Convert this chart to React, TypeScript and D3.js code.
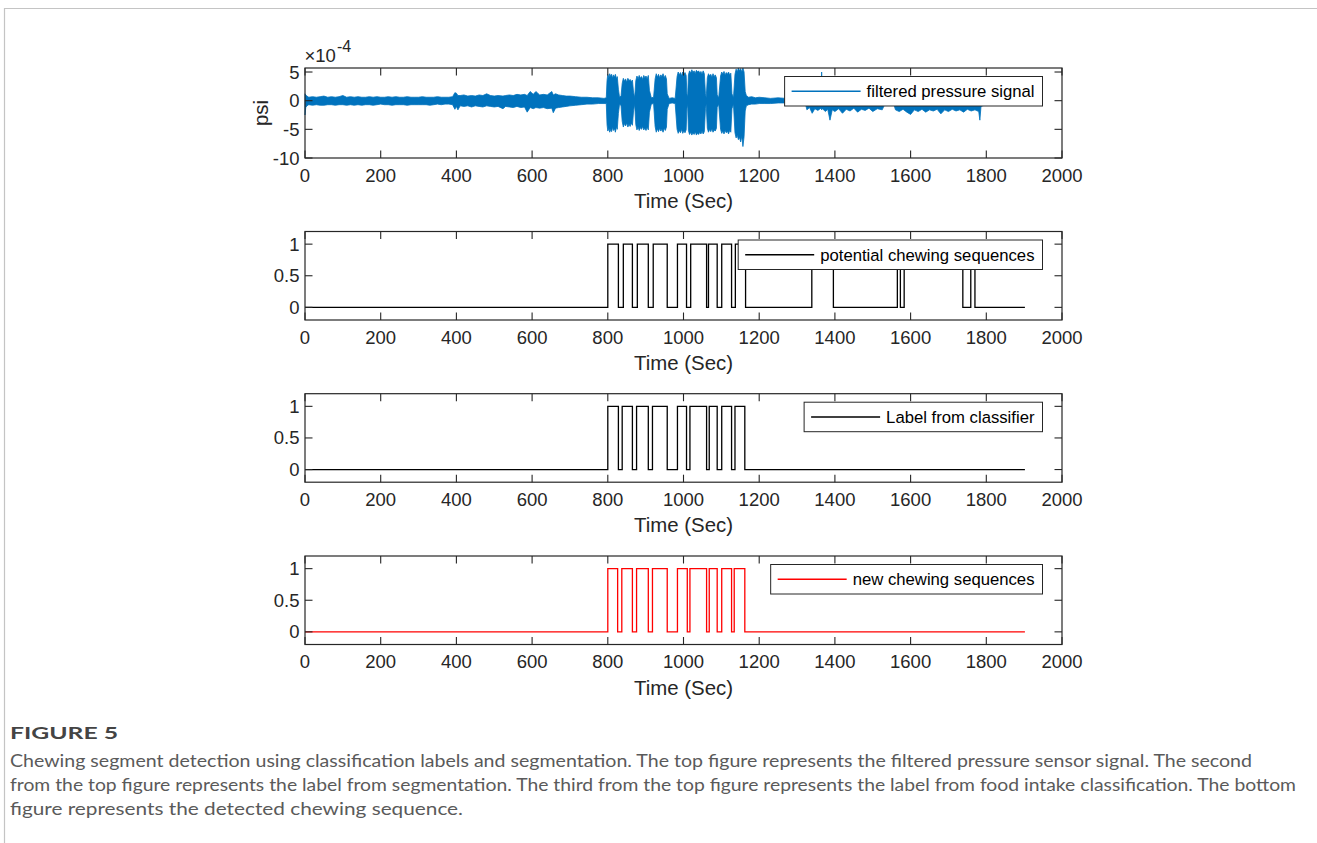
import React, { useMemo } from 'react';
import * as d3 from 'd3';

// ---------------- DATA ----------------
const xTicks = [0, 200, 400, 600, 800, 1000, 1200, 1400, 1600, 1800, 2000];
const sigYTicks = [-10, -5, 0, 5];
const stepYTicks = [0, 0.5, 1];

// filtered pressure signal envelope: [time (s), upper, lower] in units of 1e-4 psi
const sigQuietStart: number[][] = [
  [0, 1.2, -2.5], [2, 1.0, -1.2], [5, 0.8, -0.9], [10, 0.6, -0.7], [20, 0.7, -0.8], [30, 0.6, -0.7], [40, 0.7, -0.8],
  [50, 0.8, -0.8], [60, 0.6, -0.7], [70, 0.7, -0.7], [80, 0.6, -0.8], [90, 0.7, -0.7], [100, 0.9, -0.7], [110, 0.6, -0.8],
  [120, 0.7, -0.7], [130, 0.6, -0.8], [140, 0.7, -0.7], [150, 0.6, -0.8], [160, 0.6, -0.7], [170, 0.7, -0.7], [180, 0.6, -0.8],
  [190, 0.7, -0.7], [200, 0.6, -0.6], [210, 0.6, -0.7], [220, 0.7, -0.7], [230, 0.6, -0.8], [240, 0.7, -0.7], [250, 0.6, -0.7],
  [260, 0.6, -0.7], [270, 0.7, -0.8], [280, 0.6, -0.7], [290, 0.6, -0.7], [300, 0.6, -0.7], [310, 0.7, -0.7], [320, 0.6, -0.7],
  [330, 0.6, -0.8], [340, 0.6, -0.7], [350, 0.7, -0.6], [360, 0.6, -0.7], [370, 0.6, -0.6], [380, 0.6, -0.6], [390, 0.7, -0.7],
];
const sigActiveMid: number[][] = [
  [396, 1.4, -1.5], [400, 1.3, -1.0], [404, 0.9, -1.6], [410, 0.9, -0.9], [420, 1.0, -1.0], [430, 0.8, -0.9], [440, 0.9, -1.1],
  [450, 0.8, -0.9], [460, 1.0, -1.0], [470, 0.9, -1.1], [480, 1.2, -0.9], [490, 0.9, -1.0], [500, 0.8, -1.1], [510, 0.9, -1.0],
  [523, 0.8, -1.4], [530, 0.9, -1.0], [540, 1.0, -1.1], [550, 0.9, -1.2], [560, 1.1, -1.0], [570, 1.0, -1.2], [580, 1.1, -1.1],
  [587, 0.9, -2.0], [595, 1.6, -1.2], [603, 1.1, -1.4], [610, 1.6, -1.2], [620, 1.0, -1.3], [630, 1.1, -1.2], [640, 1.0, -1.4],
  [652, 1.6, -1.3], [656, 1.0, -2.1], [662, 1.2, -1.3], [670, 1.0, -1.2], [680, 0.9, -1.1], [690, 0.8, -1.0], [700, 0.8, -0.9],
  [715, 0.7, -0.8], [730, 0.6, -0.7], [745, 0.6, -0.6], [760, 0.5, -0.6], [775, 0.5, -0.5], [790, 0.4, -0.5], [796, 0.5, -0.5],
];
const sigBursts: number[][] = [
  [798, 3.5, -4.2], [800, 4.6, -5.3], [803, 4.0, -4.8], [805, 4.7, -5.5], [808, 4.2, -5.0], [810, 4.6, -5.4], [813, 3.9, -4.6],
  [815, 4.5, -5.2], [818, 4.1, -4.9], [820, 4.6, -5.5], [823, 3.8, -4.5], [825, 4.2, -5.0], [828, 2.0, -2.2],
  [831, 0.6, -0.6], [835, 0.8, -0.9],
  [838, 3.0, -3.6], [841, 3.9, -4.6], [844, 3.4, -4.0], [847, 3.8, -4.4], [850, 3.2, -3.9], [853, 3.9, -4.6], [856, 3.5, -4.1],
  [859, 3.7, -4.5], [862, 3.3, -3.9], [865, 3.6, -4.3], [868, 1.5, -1.8],
  [871, 0.5, -0.6],
  [874, 3.5, -4.2], [877, 4.3, -5.1], [880, 3.8, -4.6], [883, 4.4, -5.2], [886, 3.9, -4.7], [889, 4.2, -5.0], [892, 3.7, -4.5],
  [895, 4.4, -5.1], [898, 4.0, -4.8], [901, 4.3, -5.2], [904, 3.8, -4.6], [907, 4.4, -5.1], [910, 1.8, -2.0],
  [915, 0.5, -0.6], [921, 0.6, -0.5],
  [925, 3.8, -4.5], [928, 4.7, -5.5], [931, 4.1, -4.9], [934, 4.6, -5.4], [937, 4.0, -4.8], [940, 4.5, -5.3], [943, 4.2, -5.0],
  [946, 4.7, -5.5], [949, 4.0, -4.8], [952, 4.4, -5.2], [955, 3.8, -4.6], [957, 1.2, -1.5],
  [962, 0.4, -0.5], [970, 0.5, -0.4], [978, 0.4, -0.5],
  [983, 4.2, -5.0], [986, 5.0, -5.7], [989, 4.5, -5.2], [992, 4.9, -5.6], [995, 4.3, -5.0], [998, 5.0, -5.7], [1001, 4.6, -5.3],
  [1004, 4.9, -5.6], [1007, 4.4, -5.1], [1009, 1.2, -1.4],
  [1011, 0.6, -0.6],
  [1013, 4.5, -5.2], [1016, 5.2, -5.9], [1019, 4.8, -5.5], [1022, 5.4, -6.0], [1025, 4.9, -5.6], [1028, 5.2, -5.9], [1031, 4.7, -5.4],
  [1034, 5.3, -6.0], [1037, 5.0, -5.7], [1040, 5.2, -5.9], [1043, 4.8, -5.5], [1046, 5.1, -5.8], [1049, 4.6, -5.3], [1052, 5.2, -5.8],
  [1055, 4.7, -5.4], [1058, 1.2, -1.4],
  [1060, 0.5, -0.6],
  [1063, 4.0, -4.8], [1066, 4.7, -5.5], [1069, 4.3, -5.0], [1072, 4.6, -5.4], [1075, 4.1, -4.9], [1078, 4.7, -5.5], [1081, 4.2, -5.1],
  [1084, 4.5, -5.3], [1087, 4.0, -4.8], [1089, 1.0, -1.2],
  [1093, 0.5, -0.6],
  [1098, 4.3, -5.0], [1101, 5.0, -5.7], [1104, 4.6, -5.3], [1107, 5.1, -5.8], [1110, 4.5, -5.2], [1113, 4.9, -5.6], [1116, 4.6, -5.3],
  [1119, 5.0, -5.8], [1122, 4.5, -5.2], [1125, 4.8, -5.5], [1128, 1.2, -1.4],
  [1132, 0.5, -0.6],
  [1136, 4.6, -5.6], [1139, 5.5, -6.5], [1142, 5.0, -6.0], [1145, 5.7, -6.8], [1148, 5.2, -6.4], [1151, 5.6, -7.2], [1154, 5.0, -6.2],
  [1157, 5.7, -8.0], [1160, 5.0, -6.3], [1163, 1.6, -1.8],
];
const sigAfter: number[][] = [
  [1166, 0.9, -0.9], [1172, 0.6, -0.7], [1180, 0.7, -0.6], [1190, 0.5, -0.6], [1200, 0.6, -0.5], [1215, 0.5, -0.5], [1230, 0.4, -0.5],
  [1250, 0.5, -0.4], [1270, 0.4, -0.4], [1290, 0.4, -0.5], [1310, 0.4, -0.4], [1322, 0.4, -0.5],
  [1326, 0.3, -1.6], [1333, 0.4, -1.2], [1340, 0.4, -2.2], [1347, 0.3, -1.4], [1355, 0.3, -1.7], [1363, 0.3, -1.3], [1365, 5.0, -1.6],
  [1367, 0.3, -1.4], [1375, 0.3, -1.9], [1381, 0.3, -1.5], [1387, 0.3, -3.4], [1393, 0.3, -1.6], [1400, 0.3, -1.9], [1410, 0.3, -1.4],
  [1420, 0.3, -2.2], [1430, 0.3, -1.5], [1440, 0.3, -1.8], [1450, 0.3, -1.3], [1460, 0.3, -2.0], [1470, 0.3, -1.5], [1480, 0.3, -1.7],
  [1490, 0.3, -1.3], [1500, 0.3, -1.9], [1512, 0.3, -1.4], [1525, 0.3, -1.6], [1532, 0.3, -0.6], [1545, 0.3, -0.4], [1555, 0.3, -0.5],
  [1560, 0.3, -1.6], [1570, 0.4, -1.9], [1580, 0.4, -1.5], [1590, 0.3, -2.0], [1600, 0.3, -2.4], [1610, 0.3, -1.6], [1620, 0.3, -1.9],
  [1630, 0.3, -1.5], [1640, 0.3, -2.0], [1650, 0.3, -1.6], [1660, 0.3, -1.8], [1670, 0.3, -1.5], [1680, 0.3, -2.3], [1690, 0.3, -1.6],
  [1700, 0.3, -1.9], [1710, 0.3, -1.5], [1720, 0.3, -1.8], [1730, 0.3, -1.6], [1740, 0.3, -2.0], [1750, 0.3, -1.5], [1760, 0.3, -1.8],
  [1770, 0.3, -1.6], [1780, 0.3, -1.9], [1783, 0.3, -3.4], [1786, 0.3, -1.0], [1795, 0.3, -0.8], [1810, 0.3, -0.6], [1830, 0.3, -0.6],
  [1850, 0.4, -0.5], [1870, 0.3, -0.6], [1885, 0.4, -0.5], [1890, 0.8, -0.5], [1895, 0.4, -0.4], [1902, 0.3, -0.3],
];

// potential chewing sequences (segmentation)
const potT = [0, 800, 828, 841, 865, 878, 907, 920, 957, 984, 1008, 1019, 1061, 1066, 1089, 1101, 1127, 1137, 1164, 1339, 1396, 1565, 1573, 1583, 1738, 1759, 1770, 1902];
const potV = [0, 1, 0, 1, 0, 1, 0, 1, 0, 1, 0, 1, 0, 1, 0, 1, 0, 1, 0, 1, 0, 1, 0, 1, 0, 1, 0, 0];
// label from classifier
const labT = [0, 800, 828, 838, 865, 876, 907, 918, 957, 984, 1008, 1017, 1061, 1068, 1089, 1101, 1127, 1136, 1162, 1902];
const labV = [0, 1, 0, 1, 0, 1, 0, 1, 0, 1, 0, 1, 0, 1, 0, 1, 0, 1, 0, 0];
// new chewing sequences
const newT = [0, 800, 826, 837, 865, 876, 907, 918, 957, 984, 1010, 1017, 1061, 1068, 1089, 1101, 1127, 1134, 1162, 1902];
const newV = [0, 1, 0, 1, 0, 1, 0, 1, 0, 1, 0, 1, 0, 1, 0, 1, 0, 1, 0, 0];

const legendLabels = ['filtered pressure signal', 'potential chewing sequences', 'Label from classifier', 'new chewing sequences'];
const xLabel = 'Time (Sec)';
const captionTitle = 'FIGURE 5';
const captionLines = [
  'Chewing segment detection using classification labels and segmentation. The top figure represents the filtered pressure sensor signal. The second',
  'from the top figure represents the label from segmentation. The third from the top figure represents the label from food intake classification. The bottom',
  'figure represents the detected chewing sequence.',
];

// ---------------- LAYOUT ----------------
const W = 1317, H = 843;
const X0 = 305, X1 = 1062;
const FONT = "'Liberation Sans', Arial, Helvetica, sans-serif";
const CAP_FONT = "Lato, 'Open Sans', sans-serif";
const AX = '#262626';
const TICK_FS = 18.5, LEG_FS = 16.7, LAB_FS = 20.4;
const TL = 7.5;

const panels = [
  { top: 68, bottom: 158 },
  { top: 231.5, bottom: 320 },
  { top: 393.7, bottom: 482.2 },
  { top: 556, bottom: 644.5 },
];

function measure(text: string, size: number) {
  try {
    const c = document.createElement('canvas').getContext('2d')!;
    c.font = `${size}px 'Liberation Sans'`;
    return c.measureText(text).width;
  } catch (e) {
    return text.length * size * 0.45;
  }
}

function Frame({ p, y, yTicks, fmt }: any) {
  const x = d3.scaleLinear().domain([0, 2000]).range([X0, X1]);
  return (
    <g>
      {xTicks.map((t) => (
        <g key={'x' + t}>
          <line x1={x(t)} x2={x(t)} y1={p.bottom} y2={p.bottom - TL} stroke={AX} strokeWidth={1.1} />
          <line x1={x(t)} x2={x(t)} y1={p.top} y2={p.top + TL} stroke={AX} strokeWidth={1.1} />
          <text x={x(t)} y={p.bottom + 23.5} textAnchor="middle" fontSize={TICK_FS} fill={AX} fontFamily={FONT}>{t}</text>
        </g>
      ))}
      {yTicks.map((t: number) => (
        <g key={'y' + t}>
          <line x1={X0} x2={X0 + TL} y1={y(t)} y2={y(t)} stroke={AX} strokeWidth={1.1} />
          <line x1={X1} x2={X1 - TL} y1={y(t)} y2={y(t)} stroke={AX} strokeWidth={1.1} />
          <text x={X0 - 5.5} y={y(t) + 6.5} textAnchor="end" fontSize={TICK_FS} fill={AX} fontFamily={FONT}>{fmt(t)}</text>
        </g>
      ))}
      <text x={(X0 + X1) / 2} y={p.bottom + 50} textAnchor="middle" fontSize={LAB_FS} fill={AX} fontFamily={FONT}>{xLabel}</text>
    </g>
  );
}

function Box({ p }: any) {
  return <rect x={X0} y={p.top} width={X1 - X0} height={p.bottom - p.top} fill="none" stroke={AX} strokeWidth={1.2} />;
}

function Legend({ p, label, color }: any) {
  const w = measure(label, LEG_FS);
  const right = 1042.5;
  const bw = 7 + 69 + 6 + w + 8;
  const left = right - bw;
  const top = p.top + 8.5;
  const h = 29.5;
  const cy = top + h / 2;
  return (
    <g>
      <rect x={left} y={top} width={bw} height={h} fill="#fff" stroke={AX} strokeWidth={1} />
      <line x1={left + 7} x2={left + 76} y1={cy} y2={cy} stroke={color} strokeWidth={1.4} />
      <text x={left + 82} y={cy + 6} fontSize={LEG_FS} fill="#000" fontFamily={FONT}>{label}</text>
    </g>
  );
}

export default function App() {
  const x = d3.scaleLinear().domain([0, 2000]).range([X0, X1]);
  const ySig = d3.scaleLinear().domain([-10, 5.7]).range([panels[0].bottom, panels[0].top]);
  const ySteps = panels.slice(1).map((p) => d3.scaleLinear().domain([-0.2, 1.2]).range([p.bottom, p.top]));

  const sigArea = useMemo(() => {
    const pts = [...sigQuietStart, ...sigActiveMid, ...sigBursts, ...sigAfter];
    return d3.area<number[]>().x((d) => x(d[0])).y0((d) => ySig(d[2])).y1((d) => ySig(d[1]))(pts) || '';
  }, []);

  const stepPath = (T: number[], V: number[], y: any) =>
    d3.line<number>().x((_, i) => x(T[i])).y((v) => y(v)).curve(d3.curveStepAfter)(V) || '';

  const steps = [
    { T: potT, V: potV, color: '#000000' },
    { T: labT, V: labV, color: '#000000' },
    { T: newT, V: newV, color: '#ff0000' },
  ];

  const fmtStep = (v: number) => (v === 0 ? '0' : v === 1 ? '1' : '0.5');

  return (
    <svg width={W} height={H} style={{ position: 'absolute', left: 0, top: 0, background: '#fff' }}>
      <rect x={0} y={0} width={W} height={H} fill="#fff" />
      <path d={`M4.5,${H + 5} L4.5,8.5 L${W + 5},8.5`} fill="none" stroke="#c4c4c4" strokeWidth={1.2} />

      {/* Panel 1 */}
      <path d={sigArea} fill="#0072BD" stroke="#0072BD" strokeWidth={0.8} strokeLinejoin="miter" />
      <Frame p={panels[0]} y={ySig} yTicks={sigYTicks} fmt={(v: number) => String(v)} />
      <text x={X0 - 0.5} y={62} fontSize={TICK_FS} fill={AX} fontFamily={FONT}>×10</text>
      <text x={337} y={51.5} fontSize={16} fill={AX} fontFamily={FONT}>-4</text>
      <text transform={`translate(268,${(panels[0].top + panels[0].bottom) / 2}) rotate(-90)`} textAnchor="middle" fontSize={LAB_FS} fill={AX} fontFamily={FONT}>psi</text>
      <Box p={panels[0]} />
      <Legend p={panels[0]} label={legendLabels[0]} color="#0072BD" />

      {steps.map((s, k) => {
        const p = panels[k + 1];
        const y = ySteps[k];
        return (
          <g key={k}>
            <path d={stepPath(s.T, s.V, y)} fill="none" stroke={s.color} strokeWidth={1.3} />
            <Frame p={p} y={y} yTicks={stepYTicks} fmt={fmtStep} />
            <Box p={p} />
            <Legend p={p} label={legendLabels[k + 1]} color={s.color} />
          </g>
        );
      })}

      {/* Caption */}
      <text x={10} y={739} fontSize={17} fontWeight={700} fill="#444" fontFamily={CAP_FONT} textLength={108} lengthAdjust="spacingAndGlyphs">{captionTitle}</text>
      {captionLines.map((l, i) => (
        <text key={i} x={10} y={767 + i * 24} fontSize={17} fill="#5a5a5a" fontFamily={CAP_FONT}
          textLength={[1242, 1286, 453][i]} lengthAdjust="spacingAndGlyphs">{l}</text>
      ))}
    </svg>
  );
}
